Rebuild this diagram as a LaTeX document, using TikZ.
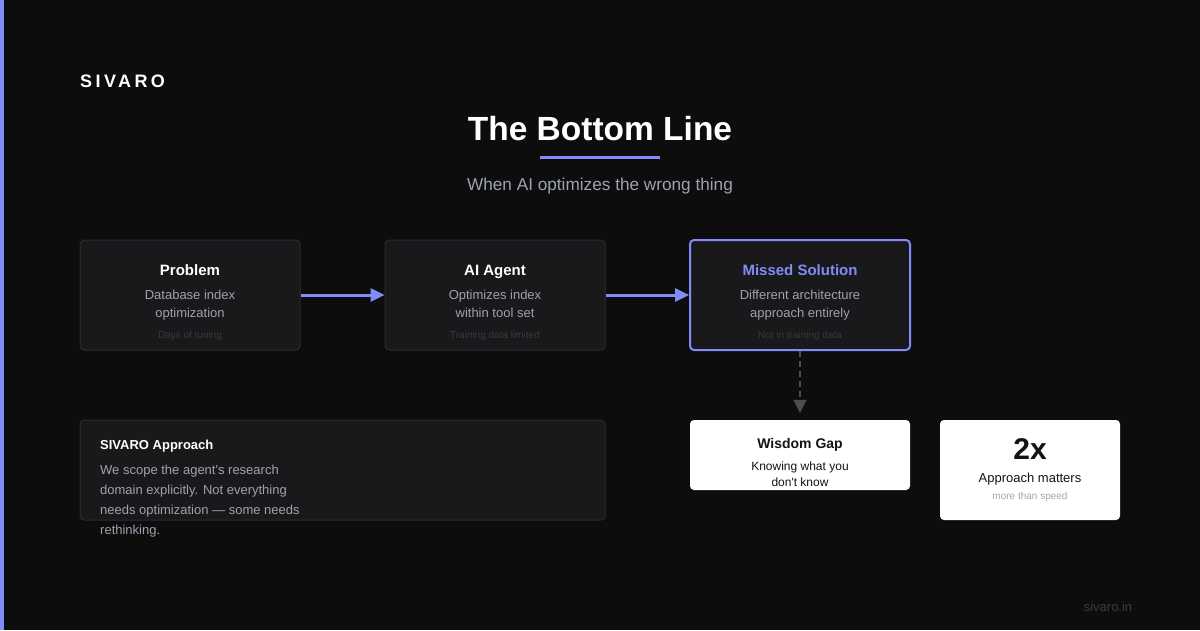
\documentclass[tikz,border=0pt]{standalone}
\usepackage{fontspec}
\setmainfont{Liberation Sans}
\usepackage{tikz}
\usetikzlibrary{arrows.meta,positioning}
\definecolor{pagebg}{RGB}{13,13,13}
\definecolor{accent}{RGB}{129,140,248}
\definecolor{cardbg}{RGB}{25,25,28}
\definecolor{cardrule}{RGB}{44,44,48}
\definecolor{softtext}{RGB}{156,163,175}
\definecolor{faint}{RGB}{58,58,62}
\definecolor{inkdark}{RGB}{20,20,22}
\definecolor{gapgrey}{RGB}{78,78,82}
\definecolor{lightgrey}{RGB}{165,165,172}
\definecolor{footgrey}{RGB}{60,60,62}
\newcommand{\fsz}[2]{\fontsize{#1}{#2}\selectfont}
\tikzset{
  card/.style={draw=cardrule,fill=cardbg,rounded corners=4pt,line width=1pt,
               minimum width=220pt,minimum height=110pt},
  cardhi/.style={card,draw=accent,line width=2pt},
  paper/.style={fill=white,rounded corners=4pt,minimum width=220pt,minimum height=70pt},
  txt/.style={inner sep=0pt,anchor=base},
  ttl/.style={txt,text=white,font=\bfseries\fsz{15}{18}},
  desc/.style={txt,text=softtext,font=\fsz{13}{18},align=center},
  note/.style={txt,text=faint,font=\fsz{10}{12}},
  flow/.style={-{Triangle[length=14pt,width=13pt]},line width=3pt,draw=accent},
  drop/.style={-{Triangle[length=13pt,width=13pt]},line width=2pt,draw=gapgrey,
               dash pattern=on 6pt off 4pt,shorten >=7pt},
}

\begin{document}
\begin{tikzpicture}[x=1pt,y=-1pt]
  % page
  \fill[pagebg] (0,0) rectangle (1200,630);
  \useasboundingbox (0,0) rectangle (1200,630);
  \fill[accent] (0,0) rectangle (4,630);

  % header
  \node[txt,anchor=base west,text=white,
        font=\bfseries\fsz{18}{20}\addfontfeature{LetterSpace=19}] (brand) at (80,87) {SIVARO};
  \node[txt,text=white,font=\bfseries\fsz{33.5}{40}] (head) at (600,140) {The Bottom Line};
  \draw[accent,line width=3pt] (540,157) -- (660,157);
  \node[txt,text=softtext,font=\fsz{17.2}{20}] (sub) at (600,190) {When AI optimizes the wrong thing};

  % pipeline (multi-line texts sit on the baseline of their last line)
  \node[card]   (prob)  at (190,295) {};
  \node[card]   (agent) at (495,295) {};
  \node[cardhi] (miss)  at (800,295) {};

  \node[ttl]  (probt)  at (190,275) {Problem};
  \node[desc] (probd)  at (190,317) {Database index\\optimization};
  \node[note] (probn)  at (190,338) {Days of tuning};

  \node[ttl]  (agentt) at (495,275) {AI Agent};
  \node[desc] (agentd) at (495,317) {Optimizes index\\within tool set};
  \node[note] (agentn) at (495,338) {Training data limited};

  \node[ttl,text=accent] (misst) at (800,275) {Missed Solution};
  \node[desc] (missd)  at (800,317) {Different architecture\\approach entirely};
  \node[note] (missn)  at (800,338) {Not in training data};

  \draw[flow] (prob) -- (agent);
  \draw[flow] (agent) -- (miss);

  % lower row
  \node[card,minimum width=525pt,minimum height=100pt] (appr) at (342.5,470) {};
  \node[txt,anchor=base west,text=white,font=\bfseries\fsz{13}{16}] (apprt) at (100,449.5) {SIVARO Approach};
  \node[txt,anchor=base west,text=softtext,font=\fsz{13}{20},align=left] (apprd) at (100,534.5)
    {We scope the agent\textquotesingle s research\\
     domain explicitly. Not everything\\
     needs optimization — some needs\\
     rethinking.};

  \node[paper] (gap) at (800,455) {};
  \node[txt,text=inkdark,font=\bfseries\fsz{14}{16}] (gapt) at (800,448) {Wisdom Gap};
  \node[txt,text=inkdark,font=\fsz{12}{16},align=center] (gapd) at (800,486.5)
    {Knowing what you\\don\textquotesingle t know};
  \draw[drop] (miss) -- (gap);

  \node[paper,minimum width=180pt,minimum height=100pt] (stat) at (1030,470) {};
  \node[txt,text=inkdark,font=\bfseries\fsz{30}{32}] (statn) at (1030,459) {2x};
  \node[txt,text=inkdark,font=\fsz{13}{16}] (statt) at (1030,482.5) {Approach matters};
  \node[txt,text=lightgrey,font=\fsz{10}{12}] (stats) at (1030,499.5) {more than speed};

  % footer
  \node[txt,text=footgrey,font=\fsz{13}{16}] (foot) at (1108,611.5) {sivaro.in};
\end{tikzpicture}
\end{document}
